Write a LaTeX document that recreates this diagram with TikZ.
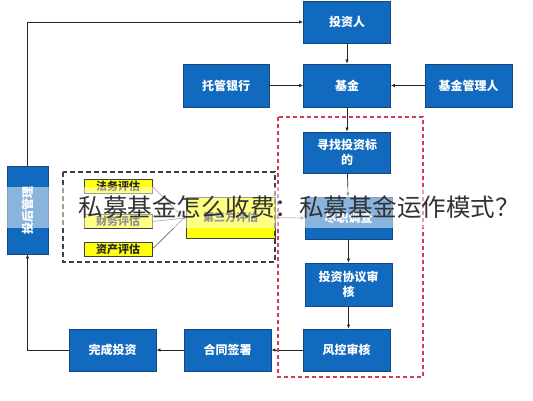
\documentclass[tikz,border=0pt]{standalone}
\usepackage{fontspec}
\setmainfont{Noto Sans CJK SC}
\usetikzlibrary{arrows.meta}
\definecolor{boxblue}{RGB}{18,106,190}
\definecolor{boxborder}{RGB}{22,70,130}
\definecolor{redline}{RGB}{212,62,82}
\definecolor{ylw}{RGB}{255,255,10}
\tikzset{
  bluebox/.style={draw=boxborder, line width=0.8pt, fill=boxblue, text=white,
    font=\bfseries\fontsize{12}{15}\selectfont, minimum width=87pt, minimum height=42pt,
    inner sep=0pt, align=center},
  ybox/.style={draw=black!75, line width=0.8pt, fill=ylw, text=black!85,
    font=\bfseries\fontsize{11}{13}\selectfont, minimum width=68pt, minimum height=14pt,
    inner sep=0pt, align=center},
  arr/.style={draw=black!85, line width=0.7pt, -{Latex[length=4pt,width=3.5pt]}},
  plain/.style={draw=black!60, line width=0.7pt},
  reddash/.style={draw=redline, line width=1.2pt, dash pattern=on 4pt off 3pt},
  blackdash/.style={draw=black!75, line width=1.4pt, dash pattern=on 5pt off 3pt},
  wm/.style={font=\fontsize{24.5}{28}\selectfont, text=black!80, inner sep=0pt}
}
\begin{document}
\begin{tikzpicture}[x=1pt,y=-1pt]
\useasboundingbox (0,0) rectangle (533,400);
% top row
\node[bluebox, minimum height=42pt] (inv) at (347,22) {投资人};
\node[bluebox, minimum height=43pt] (fund) at (347,85.5) {基金};
\node[bluebox, minimum width=86pt, minimum height=43pt] (bank) at (226,85.5) {托管银行};
\node[bluebox, minimum height=43pt] (mgr) at (468.5,85.5) {基金管理人};
% process column
\node[bluebox, minimum height=41pt] (find) at (347,152.5) {寻找投资标\\的};
\node[bluebox] (dd) at (348.5,218) {尽职调查};
\node[bluebox, minimum height=43pt] (agr) at (348.5,284.5) {投资协议审\\核};
\node[bluebox] (risk) at (346.5,350) {风控审核};
\node[bluebox] (sign) at (227.5,350) {合同签署};
\node[bluebox] (done) at (112.5,350) {完成投资};
\node[bluebox, minimum width=41pt, minimum height=88pt] (post) at (27.5,210)
  {\rotatebox{90}{投后管理}};
% evaluation boxes
\node[ybox] (law) at (118,186.5) {法务评估};
\node[ybox] (fin) at (118,221.5) {财务评估};
\node[ybox] (asset) at (118,249) {资产评估};
\node[ybox, minimum width=89pt, minimum height=41pt] (third) at (230.5,217.5) {第三方评估};
\coordinate (conv) at (184,218);
% connectors
\draw[arr] (inv) -- (fund);
\draw[arr] (bank) -- (fund);
\draw[arr] (mgr) -- (fund);
\draw[arr] (fund) -- (find);
\draw[arr] (find) -- (dd);
\draw[arr] (dd) -- (agr);
\draw[arr] (agr.south) -- (agr.south |- risk.north);
\draw[arr] (risk) -- (sign);
\draw[arr] (sign) -- (done);
\draw[arr] (done.west) -| (post.south);
\draw[arr] (post.north) |- (inv.west);
\draw[plain] (law.east) -- (conv);
\draw[plain] (fin.east) -- (conv);
\draw[plain] (asset.east) -- (conv);
\draw[plain] (conv) -- (third.west);
\fill[black!60] (conv) circle (1.5pt);
\draw[arr, draw=black!55] (third.east) -- (dd.west);
% dashed frames
\draw[reddash] (278,117) rectangle (423,377);
\draw[blackdash] (63,172) rectangle (275,262);
% watermark
\fill[white, opacity=0.5] (0,187) rectangle (533,228);
\node[wm] (wmtext) at (299,207) {私募基金怎么收费：私募基金运作模式？};
\end{tikzpicture}
\end{document}
